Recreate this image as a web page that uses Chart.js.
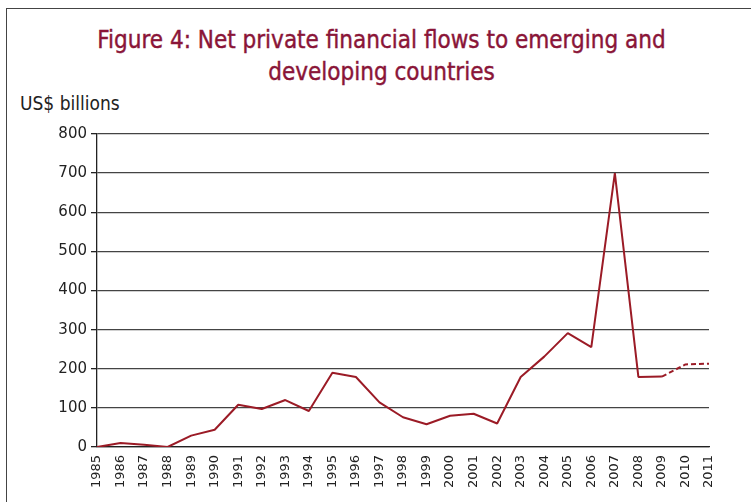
<!DOCTYPE html>
<html>
<head>
<meta charset="utf-8">
<script src="https://cdn.jsdelivr.net/npm/chart.js@4"></script>
<style>
    body { margin: 0; background: #fff; }
    #wrap { position: relative; width: 751px; height: 502px; overflow: hidden; }
    #frame { position: absolute; left: 6px; top: 8px; width: 800px; height: 600px; border-left: 1.5px solid #444; border-top: 1.5px solid #444; }
    #title { position: absolute; left: 0; width: 763px; top: 24px; text-align: center; color: #8a1538;
             font-family: "DejaVu Sans Condensed", sans-serif; font-size: 24px; line-height: 32px;
             -webkit-text-stroke: 0.4px #8a1538; }
    #unit { position: absolute; left: 20px; top: 92px; color: #222;
            font-family: "DejaVu Sans Condensed", sans-serif; font-size: 19px; }
    canvas { position: absolute; left: 0; top: 0; }
</style>
</head>
<body>
<div id="wrap">
    <div id="frame"></div>
    <div id="title">Figure 4: Net private financial flows to emerging and<br>developing countries</div>
    <div id="unit">US$ billions</div>
    <canvas id="flows" width="751" height="502"></canvas>
</div>
<script>
// data (US$ billions)
const years = ["1985", "1986", "1987", "1988", "1989", "1990", "1991", "1992", "1993", "1994",
               "1995", "1996", "1997", "1998", "1999", "2000", "2001", "2002", "2003", "2004",
               "2005", "2006", "2007", "2008", "2009", "2010", "2011"];
const netFlows = [0, 10, 6, 0, 29, 44, 108, 97, 120, 92,
                  190, 179, 114, 76, 58, 80, 85, 60, 179, 231,
                  291, 255, 700, 179, 180, 211, 213];
const yTicks = [0, 100, 200, 300, 400, 500, 600, 700, 800];
const firstForecast = 24; // 2009 onwards is drawn dashed

const lineColor = "#9b1b26";

new Chart(document.getElementById("flows"), {
    type: "line",
    data: {
        labels: years,
        datasets: [{
            data: netFlows,
            borderColor: lineColor,
            borderWidth: 2,
            borderJoinStyle: "bevel",
            pointRadius: 0,
            tension: 0,
            segment: {
                borderDash: (ctx) => ctx.p0DataIndex >= firstForecast ? [5, 3] : undefined,
            },
        }],
    },
    options: {
        responsive: false,
        animation: false,
        layout: { padding: { left: 0, right: 42, top: 134, bottom: 0 } },
        plugins: { legend: { display: false }, tooltip: { enabled: false } },
        scales: {
            x: {
                afterFit: (scale) => { scale.height = 55; },
                grid: { display: false, drawOnChartArea: false, drawTicks: true, tickLength: 6, tickColor: "#222", tickWidth: 1.3 },
                border: { display: true, color: "#222", width: 1.3 },
                ticks: {
                    autoSkip: false, minRotation: 90, maxRotation: 90, padding: 2,
                    color: "#222", font: { family: "DejaVu Sans", size: 13 },
                },
            },
            y: {
                min: 0, max: 800,
                afterFit: (scale) => { scale.width = 97; },
                afterBuildTicks: (scale) => { scale.ticks = yTicks.map((v) => ({ value: v })); },
                grid: { color: "#444", lineWidth: 1.3, tickLength: 6, tickColor: "#222" },
                border: { display: true, color: "#222", width: 1.3 },
                ticks: { color: "#222", padding: 4, font: { family: "DejaVu Sans", size: 15 } },
            },
        },
    },
});
</script>
</body>
</html>
